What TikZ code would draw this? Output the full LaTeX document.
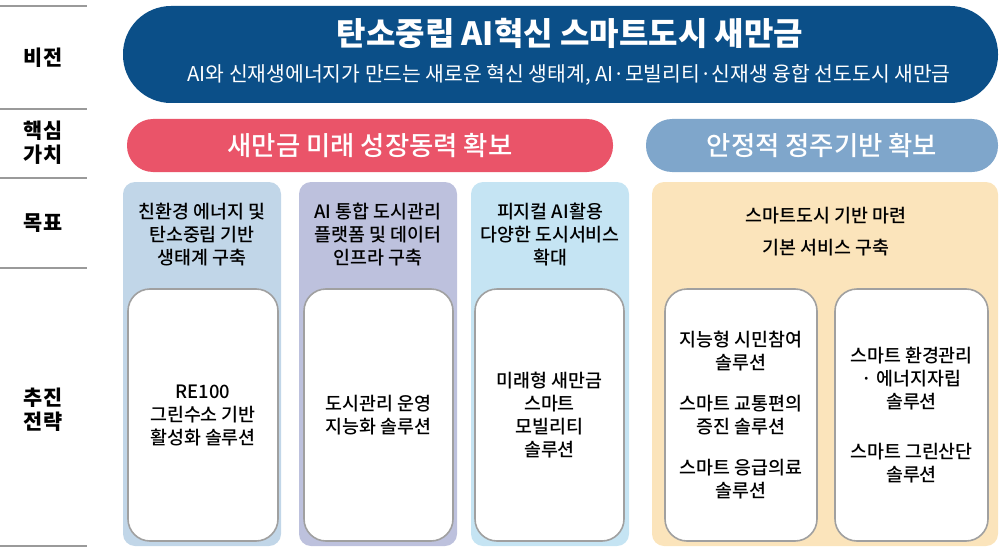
\documentclass[tikz,border=0pt]{standalone}
\usepackage{fontspec}
\setmainfont{Noto Sans CJK KR}
\newfontfamily\mediumfont{Noto Sans CJK KR Medium}
\usetikzlibrary{positioning}

\definecolor{visionblue}{HTML}{0B4F88}
\definecolor{valuered}{HTML}{EA5469}
\definecolor{valueblue}{HTML}{7FA6CB}
\definecolor{goalA}{HTML}{C1D6E8}
\definecolor{goalB}{HTML}{BDC1DD}
\definecolor{goalC}{HTML}{C5E4F3}
\definecolor{goalD}{HTML}{FBE4BB}
\definecolor{sepgray}{HTML}{9A9A9A}
\definecolor{boxgray}{HTML}{A0A0A0}

\begin{document}
\begin{tikzpicture}[x=0.5pt,y=-0.5pt,
	rowlabel/.style={font=\bfseries\fontsize{10.4}{12}\selectfont, align=center},
	pill/.style={fill=#1, draw=none, inner sep=0pt, minimum height=26.5pt, rounded corners=13pt,
		text=white, font=\mediumfont\fontsize{13.2}{15}\selectfont},
	goalbox/.style={fill=#1, draw=none, inner sep=0pt, minimum height=182pt, rounded corners=6pt},
	goaltext/.style={align=center, font=\mediumfont\fontsize{9.2}{11.5}\selectfont},
	solbox/.style={fill=white, draw=boxgray, line width=0.8pt, inner sep=0pt, minimum height=126pt,
		rounded corners=11pt, align=center, font=\mediumfont\fontsize{9.2}{11.5}\selectfont}]
	\useasboundingbox (0,0) rectangle (1000,551);
	
	% Row labels
	\foreach \y in {6,109,178,268,546}
	\draw[sepgray, line width=0.7pt] (0,\y) -- (87,\y);
	\node[rowlabel] (vision) at (43,58) {비전};
	\node[rowlabel] (value) at (43,143) {핵심\\가치};
	\node[rowlabel] (goal) at (43,223) {목표};
	\node[rowlabel] (strategy) at (43,410) {추진\\전략};
	
	% Vision
	\node[fill=visionblue, inner sep=0pt, minimum width=437.5pt, minimum height=48.5pt,
		rounded corners=24pt] (banner) at (560.5,54.5) {};
	\node[text=white, font=\bfseries\fontsize{16}{18}\selectfont] (title) at (570,33)
		{탄소중립 AI혁신 스마트도시 새만금};
	\node[text=white, font=\fontsize{10.2}{12}\selectfont] (subtitle) at (569,75)
		{AI와 신재생에너지가 만드는 새로운 혁신 생태계, AI·모빌리티·신재생 융합 선도도시 새만금};
	
	% Core values
	\node[pill=valuered, minimum width=243pt] (growth) at (370,145.5) {새만금 미래 성장동력 확보};
	\node[pill=valueblue, minimum width=176pt] (settle) at (822,145.5) {안정적 정주기반 확보};
	
	% Goals
	\node[goalbox=goalA, minimum width=79pt] (colA) at (202,364) {};
	\node[goalbox=goalB, minimum width=79pt] (colB) at (378,364) {};
	\node[goalbox=goalC, minimum width=79pt] (colC) at (550,364) {};
	\node[goalbox=goalD, minimum width=173pt] (colD) at (825,364) {};
	
	\node[goaltext] (goalA) at (202,235) {친환경 에너지 및\\탄소중립 기반\\생태계 구축};
	\node[goaltext] (goalB) at (378,235) {AI 통합 도시관리\\플랫폼 및 데이터\\인프라 구축};
	\node[goaltext] (goalC) at (550,235) {피지컬 AI활용\\다양한 도시서비스\\확대};
	\node[goaltext] (goalD) at (826,232) {스마트도시 기반 마련\\[4.5pt]기본 서비스 구축};
	
	% Strategies
	\node[solbox, minimum width=75pt] (solA) at (203,415) {RE100\\그린수소 기반\\활성화 솔루션};
	\node[solbox, minimum width=74.5pt] (solB) at (378.5,415) {도시관리 운영\\지능화 솔루션};
	\node[solbox, minimum width=74.5pt] (solC) at (549.5,415) {미래형 새만금\\스마트\\모빌리티\\솔루션};
	\node[solbox, minimum width=76pt] (solD) at (741,415)
		{지능형 시민참여\\솔루션\\[9pt]스마트 교통편의\\증진 솔루션\\[9pt]스마트 응급의료\\솔루션};
	\node[solbox, minimum width=76.5pt] (solE) at (911.5,415)
		{스마트 환경관리\\· 에너지자립\\솔루션\\[13.5pt]스마트 그린산단\\솔루션};
\end{tikzpicture}
\end{document}
